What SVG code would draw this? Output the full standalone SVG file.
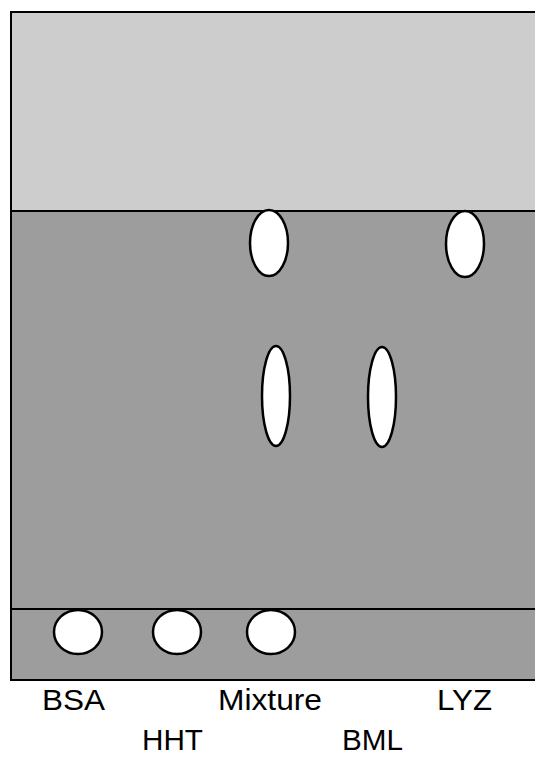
<svg xmlns="http://www.w3.org/2000/svg" width="535" height="757" viewBox="0 0 535 757">
<style>
.spot{fill:#fff;stroke:#000;stroke-width:2.5}
.lbl{font-family:"Liberation Sans",Arial,sans-serif;font-size:30px;fill:#000}
.edge{stroke:#000;stroke-width:2;fill:none}
</style>
<rect width="535" height="757" fill="#fff"/>
<g id="gel">
<rect x="11" y="12" width="530" height="199" fill="#cdcdcd"/>
<rect x="11" y="211" width="530" height="469" fill="#9d9d9d"/>
<rect x="11" y="12" width="530" height="668" class="edge"/>
<line x1="11" y1="211" x2="541" y2="211" class="edge"/>
<line x1="11" y1="609" x2="541" y2="609" class="edge"/>
</g>
<g id="spots">
<ellipse class="spot" cx="78" cy="632" rx="24" ry="22"/>
<ellipse class="spot" cx="177" cy="632" rx="24" ry="22"/>
<ellipse class="spot" cx="271" cy="632" rx="24" ry="22"/>
<ellipse class="spot" cx="269" cy="243" rx="19" ry="33"/>
<ellipse class="spot" cx="465" cy="244" rx="19" ry="33"/>
<ellipse class="spot" cx="276" cy="396" rx="14" ry="50"/>
<ellipse class="spot" cx="382" cy="397" rx="14" ry="50"/>
</g>
<g id="labels">
<text class="lbl" x="42" y="710" textLength="63" lengthAdjust="spacingAndGlyphs">BSA</text>
<text class="lbl" x="218" y="710" textLength="104" lengthAdjust="spacingAndGlyphs">Mixture</text>
<text class="lbl" x="437" y="710" textLength="55" lengthAdjust="spacingAndGlyphs">LYZ</text>
<text class="lbl" x="142" y="750" textLength="61" lengthAdjust="spacingAndGlyphs">HHT</text>
<text class="lbl" x="342" y="750" textLength="61" lengthAdjust="spacingAndGlyphs">BML</text>
</g>
</svg>
